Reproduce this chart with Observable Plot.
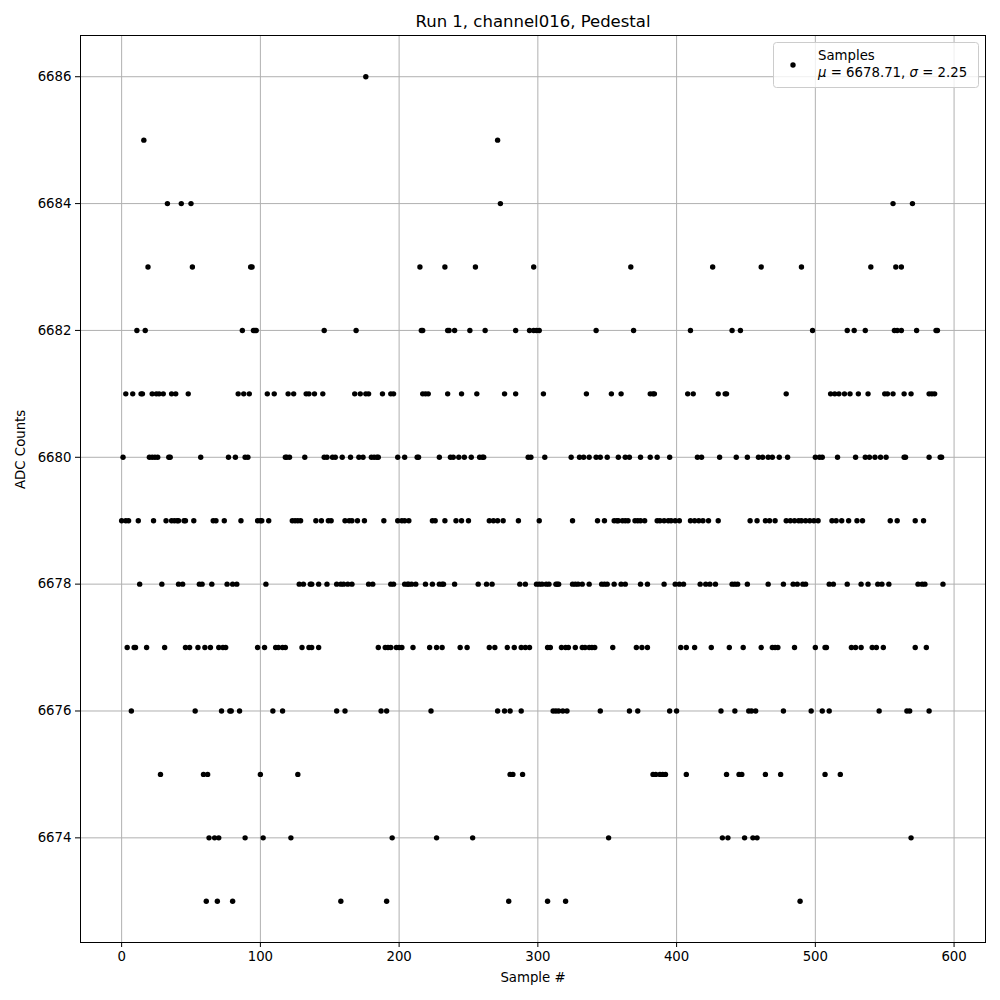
<!DOCTYPE html>
<html><head><meta charset="utf-8">
<script src="https://cdn.jsdelivr.net/npm/d3@7"></script>
<script src="https://cdn.jsdelivr.net/npm/@observablehq/plot@0.6"></script>
<style>body{margin:0;background:#fff} svg{display:block}</style>
</head><body><div id="chart"></div>
<script>
// Sample indices at each ADC count level
const v6686 = [176];
const v6685 = [16, 271];
const v6684 = [33, 43, 50, 273, 556, 570];
const v6683 = [19, 51, 93, 94, 215, 233, 255, 297, 367, 426, 461, 490, 540, 558, 562];
const v6682 = [11, 17, 87, 95, 96, 97, 146, 169, 216, 217, 235, 236, 240, 251, 262, 284, 294, 297, 299, 301, 342, 369, 410, 440, 446, 498, 523, 528, 536, 557, 559, 562, 573, 587, 588];
const v6681 = [3, 8, 14, 15, 22, 25, 27, 30, 36, 39, 48, 84, 88, 92, 105, 110, 120, 124, 133, 135, 139, 145, 168, 172, 176, 178, 188, 194, 196, 217, 219, 221, 235, 245, 256, 276, 284, 304, 335, 353, 360, 381, 383, 384, 408, 412, 430, 435, 436, 479, 511, 514, 517, 521, 525, 531, 538, 550, 552, 556, 564, 569, 582, 584, 586];
const v6680 = [1, 20, 22, 24, 26, 34, 35, 57, 77, 82, 89, 91, 118, 119, 121, 132, 146, 148, 152, 154, 159, 165, 171, 174, 180, 182, 184, 185, 199, 204, 213, 214, 229, 237, 239, 243, 247, 252, 258, 260, 261, 293, 295, 305, 324, 330, 333, 337, 342, 345, 350, 358, 363, 366, 374, 381, 386, 395, 415, 418, 431, 443, 451, 459, 462, 466, 469, 474, 480, 500, 503, 505, 516, 529, 536, 539, 543, 547, 551, 564, 565, 582, 590, 591];
const v6679 = [0, 3, 5, 12, 23, 32, 36, 38, 40, 41, 45, 46, 52, 66, 68, 74, 86, 98, 100, 101, 106, 123, 125, 127, 129, 140, 144, 149, 151, 161, 164, 166, 170, 175, 189, 199, 202, 204, 207, 224, 226, 233, 241, 245, 250, 265, 268, 271, 275, 286, 301, 325, 343, 348, 355, 357, 358, 361, 363, 365, 370, 372, 374, 377, 386, 388, 391, 394, 396, 399, 402, 410, 413, 416, 419, 423, 430, 453, 458, 464, 467, 471, 479, 482, 485, 488, 490, 493, 496, 499, 502, 512, 515, 519, 524, 530, 534, 554, 559, 572, 578];
const v6678 = [13, 29, 41, 44, 56, 58, 65, 76, 80, 83, 104, 128, 131, 136, 137, 142, 148, 155, 158, 160, 163, 166, 178, 181, 194, 196, 204, 206, 207, 209, 212, 219, 224, 229, 231, 232, 240, 257, 263, 267, 287, 291, 299, 301, 303, 306, 308, 313, 314, 315, 325, 327, 329, 332, 337, 346, 348, 350, 355, 360, 363, 374, 379, 391, 399, 402, 405, 417, 421, 424, 428, 440, 442, 444, 451, 466, 477, 484, 487, 491, 493, 510, 513, 523, 533, 538, 545, 548, 553, 574, 577, 579, 592];
const v6677 = [4, 9, 10, 18, 31, 46, 49, 55, 60, 64, 70, 73, 75, 98, 103, 111, 113, 116, 118, 130, 135, 137, 142, 185, 190, 192, 194, 198, 200, 202, 210, 222, 227, 231, 244, 249, 265, 269, 278, 283, 288, 291, 294, 307, 309, 317, 320, 322, 327, 332, 334, 337, 339, 341, 354, 371, 375, 379, 403, 407, 413, 425, 438, 448, 461, 469, 471, 473, 485, 500, 507, 508, 526, 529, 533, 541, 544, 549, 572, 580];
const v6676 = [7, 53, 72, 78, 79, 85, 109, 116, 155, 161, 187, 191, 223, 271, 276, 280, 288, 311, 313, 315, 318, 321, 345, 366, 372, 395, 400, 432, 442, 452, 454, 457, 477, 497, 505, 510, 546, 566, 568, 582];
const v6675 = [28, 59, 62, 100, 127, 280, 282, 289, 383, 385, 388, 390, 392, 407, 436, 445, 447, 464, 475, 507, 518];
const v6674 = [63, 67, 70, 89, 102, 122, 195, 227, 253, 351, 433, 437, 449, 455, 458, 569];
const v6673 = [61, 69, 80, 158, 191, 279, 307, 320, 489];

const levels = [6686, 6685, 6684, 6683, 6682, 6681, 6680, 6679, 6678, 6677, 6676, 6675, 6674, 6673];
const sampleLists = [v6686, v6685, v6684, v6683, v6682, v6681, v6680, v6679, v6678, v6677, v6676, v6675, v6674, v6673];

const xTicks = [0, 100, 200, 300, 400, 500, 600];
const yTicks = [6674, 6676, 6678, 6680, 6682, 6684, 6686];
const titleText = "Run 1, channel016, Pedestal";
const xLabel = "Sample #";
const yLabel = "ADC Counts";
const legendLabel = "Samples";
const mu = "6678.71", sigma = "2.25";

const data = levels.flatMap((v, i) => sampleLists[i].map(s => ({sample: s, adc: v})));

const font = "DejaVu Sans";
const svg = Plot.plot({
  width: 1000, height: 1000,
  marginLeft: 80, marginRight: 15, marginTop: 35, marginBottom: 58,
  style: {fontFamily: font, fontSize: "13.3px", background: "white", color: "black"},
  x: {domain: [-29.65, 622.65], label: null},
  y: {domain: [6672.35, 6686.65], label: null},
  marks: [
    Plot.gridX(xTicks, {stroke: "#b0b0b0", strokeOpacity: 1, strokeWidth: 1}),
    Plot.gridY(yTicks, {stroke: "#b0b0b0", strokeOpacity: 1, strokeWidth: 1}),
    Plot.axisX(xTicks, {tickSize: 5, tickPadding: 4, label: null, tickFormat: d => String(d)}),
    Plot.axisY(yTicks, {tickSize: 5, tickPadding: 4, label: null, tickFormat: d => String(d)}),
    Plot.dot(data, {x: "sample", y: "adc", r: 2.7, fill: "black", stroke: null}),
    Plot.frame({stroke: "black", strokeWidth: 1}),
    Plot.text([titleText], {text: d => d, frameAnchor: "top", lineAnchor: "middle", dy: -14, fontSize: 16.5}),
    Plot.text([xLabel], {text: d => d, frameAnchor: "bottom", lineAnchor: "middle", dy: 35}),
    Plot.text([yLabel], {text: d => d, frameAnchor: "left", lineAnchor: "middle", dx: -60, rotate: -90})
  ]
});
document.getElementById("chart").appendChild(svg);

// Legend (upper right, matplotlib style)
const lg = d3.select(svg).append("g").attr("font-family", font).attr("font-size", "13.3px")
  .attr("text-anchor", "start");
lg.append("rect").attr("x", 773.5).attr("y", 42.5).attr("width", 205).attr("height", 45)
  .attr("rx", 3).attr("fill", "white").attr("fill-opacity", 0.8).attr("stroke", "#cccccc");
lg.append("circle").attr("cx", 793).attr("cy", 65).attr("r", 2.7).attr("fill", "black");
lg.append("text").attr("x", 818).attr("y", 60).text(legendLabel);
const t2 = lg.append("text").attr("x", 818).attr("y", 77);
t2.append("tspan").attr("font-style", "italic").text("μ");
t2.append("tspan").text(" = " + mu + ", ");
t2.append("tspan").attr("font-style", "italic").text("σ");
t2.append("tspan").text(" = " + sigma);
</script>
</body></html>
